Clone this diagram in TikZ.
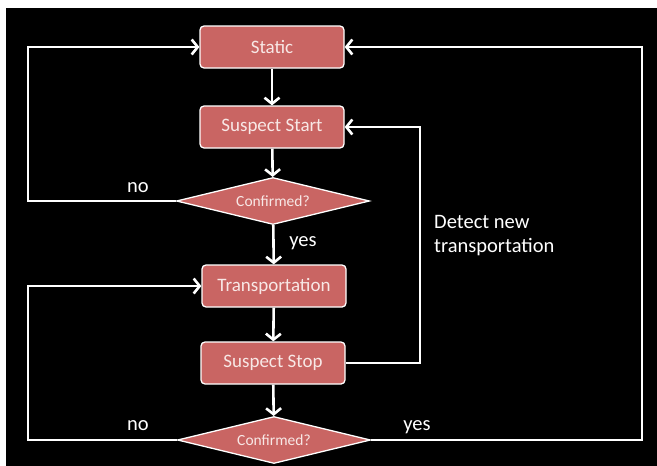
\documentclass[tikz,border=0pt]{standalone}
\usepackage{fontspec}
\setmainfont{Carlito}
\usetikzlibrary{arrows.meta,shapes.geometric}
\definecolor{boxred}{RGB}{201,101,99}
\definecolor{boxtext}{RGB}{248,232,230}
\tikzset{
  stepbox/.style={draw=white, line width=1.3pt, fill=boxred, rounded corners=4pt,
    minimum width=144pt, minimum height=42pt, inner sep=0pt, text=boxtext,
    font=\fontsize{19}{22}\selectfont},
  decision/.style={diamond, draw=white, line width=1.3pt, fill=boxred, aspect=4,
    minimum width=193pt, minimum height=47pt, inner sep=0pt, text=boxtext,
    font=\fontsize{15.5}{18}\selectfont},
  conn/.style={draw=white, line width=2.6pt, -{Straight Barb[length=6pt,width=15pt,line width=2.6pt]}},
  lbl/.style={text=white, font=\fontsize{20.5}{24}\selectfont, inner sep=0pt},
}
\begin{document}
\begin{tikzpicture}[x=1pt,y=-1pt]
\useasboundingbox (0,0) rectangle (657,466);
\fill[white] (0,0) rectangle (657,466);
\fill[black] (6,8) rectangle (657,466);

\node[stepbox] (static) at (272,47) {Static};
\node[stepbox] (sstart) at (272,127) {Suspect Start};
\node[decision] (d1) at (273,201) {Confirmed?};
\node[stepbox] (trans) at (274,286) {Transportation};
\node[stepbox] (sstop) at (273,363) {Suspect Stop};
\node[decision] (d2) at (274,440) {Confirmed?};

\coordinate (L) at (28,0);
\coordinate (R) at (642,0);
\coordinate (M) at (420,0);

\draw[conn] (static) -- (sstart);
\draw[conn] (sstart) -- (d1);
\draw[conn] (d1) -- (trans);
\draw[conn] (trans) -- (sstop);
\draw[conn] (sstop) -- (d2);

\draw[conn] (d1.west) -- (d1.west -| L) |- (static.west);
\draw[conn] (d2.west) -- (d2.west -| L) |- (trans.west);
\draw[conn] (d2.east) -- (d2.east -| R) |- (static.east);
\draw[conn] (sstop.east) -- (sstop.east -| M) |- (sstart.east);

\node[lbl] (no1) at (138,188) {no};
\node[lbl] (yes1) at (303,243) {yes};
\node[lbl, align=left, anchor=west] (detect) at (434,236) {Detect new\\transportation};
\node[lbl] (no2) at (138,426) {no};
\node[lbl] (yes2) at (417,427) {yes};
\end{tikzpicture}
\end{document}
